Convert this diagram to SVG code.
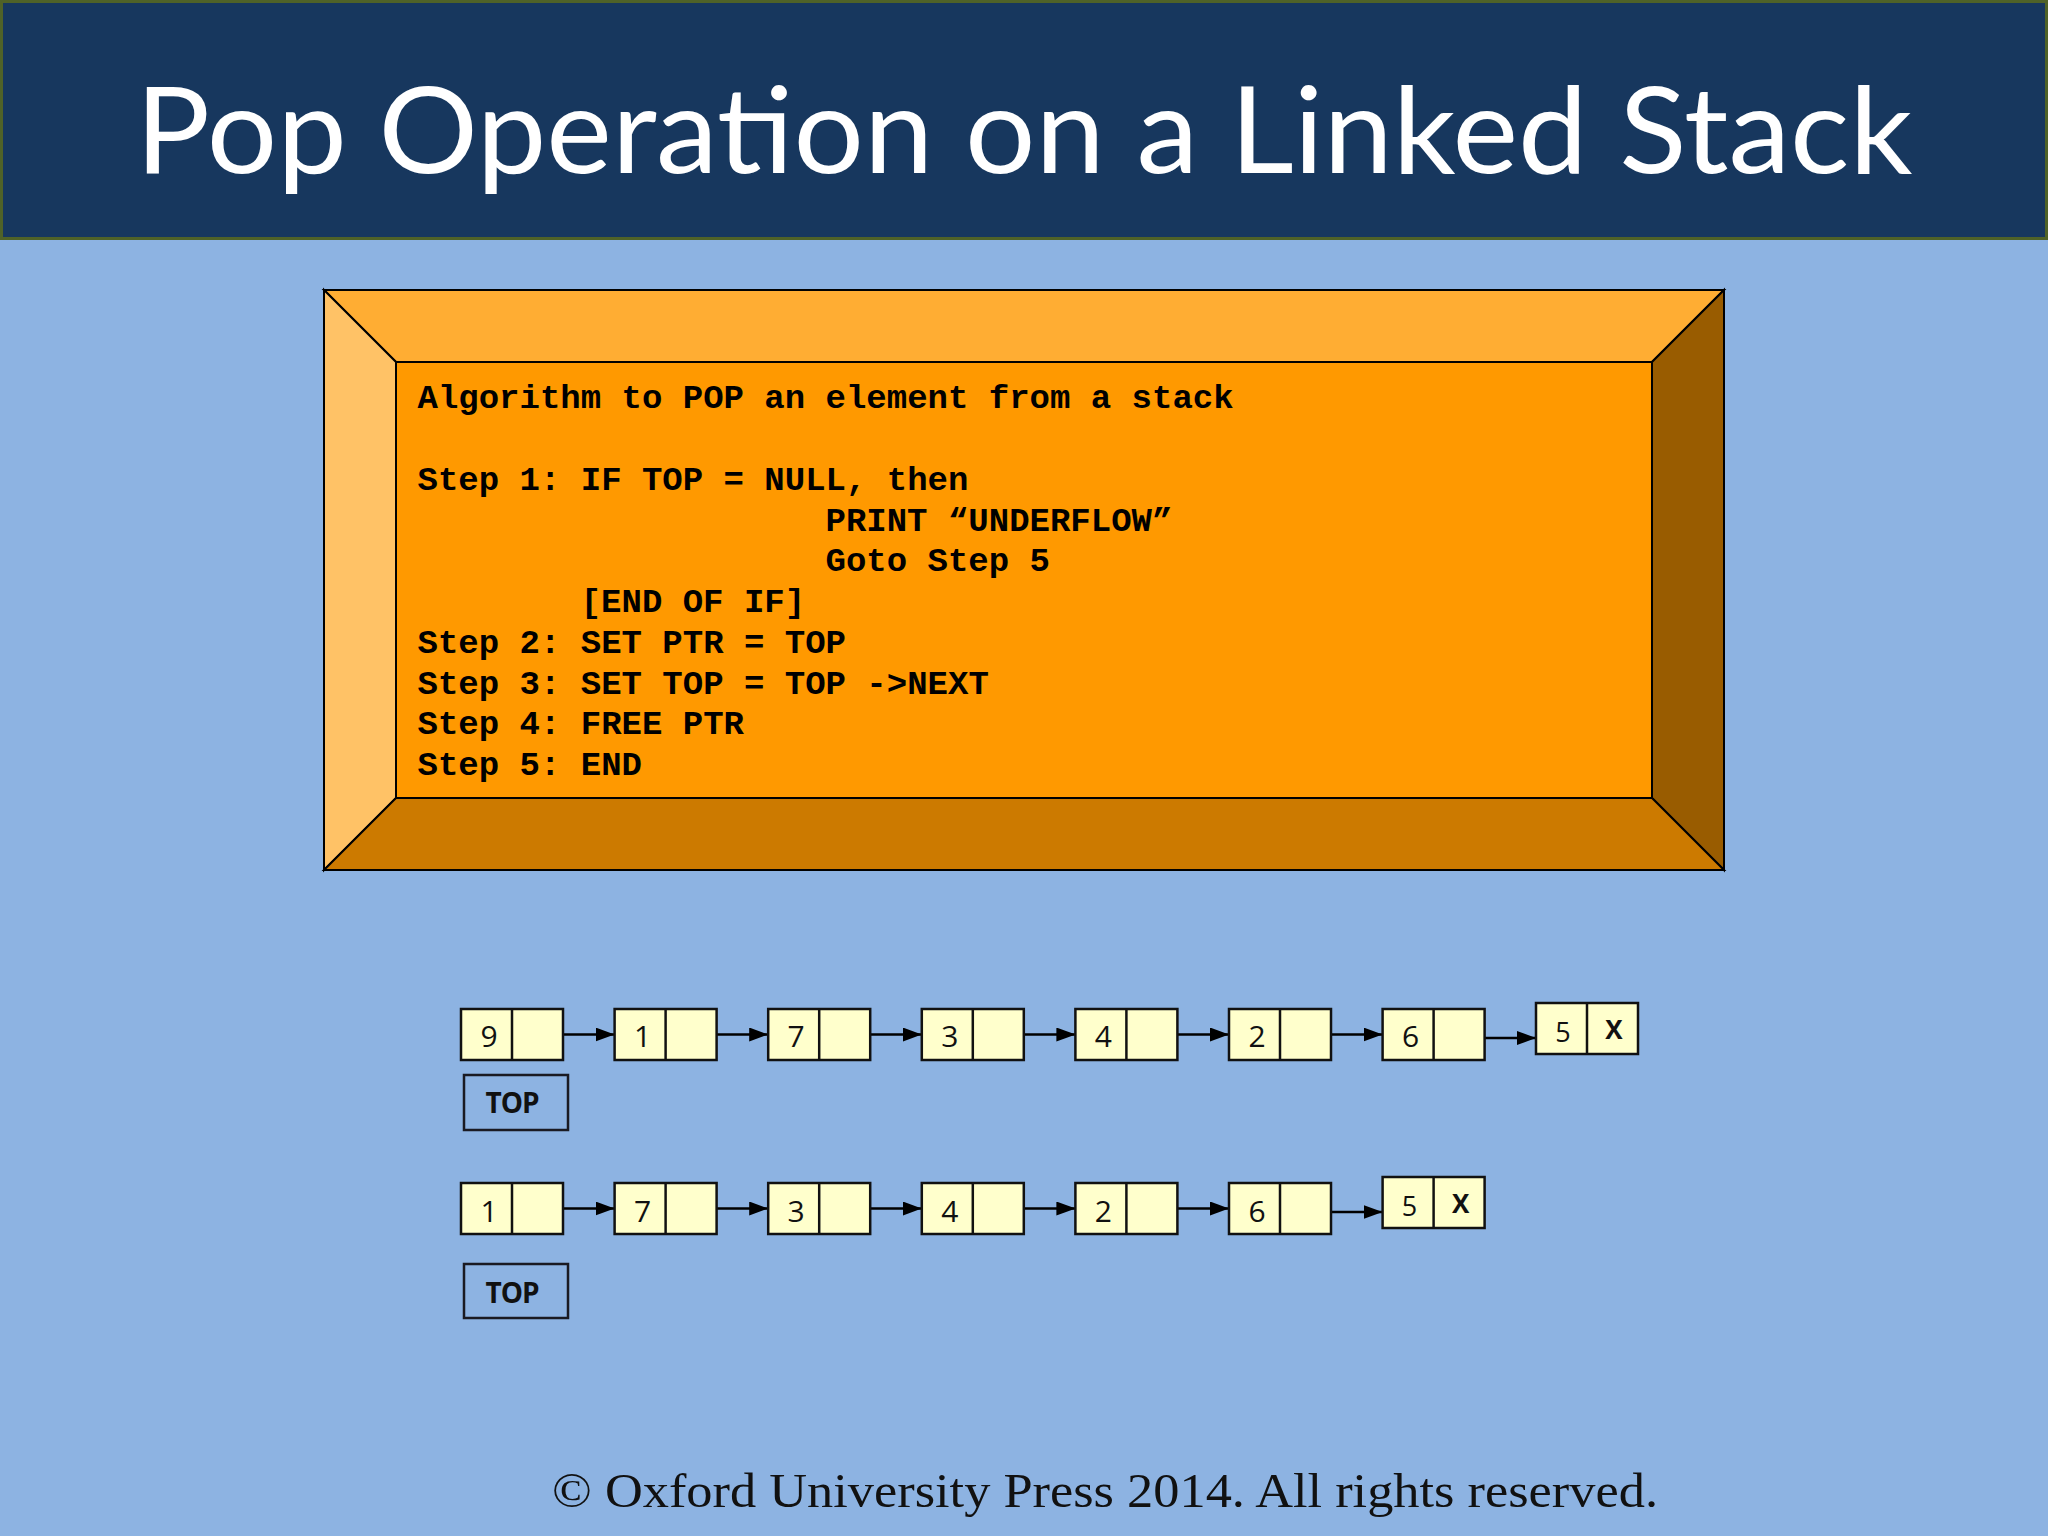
<svg xmlns="http://www.w3.org/2000/svg" width="2048" height="1536" viewBox="0 0 2048 1536">
<defs>
<style>
.node rect{fill:#FFFFCC;stroke:#111;stroke-width:2.5}
.node line{stroke:#111;stroke-width:2.5}
.num{font-family:"Open Sans","Noto Sans",sans-serif;font-size:30px;fill:#111;text-anchor:middle}
.sm{font-size:27px}
.x{font-family:"Open Sans","Noto Sans",sans-serif;font-size:26px;font-weight:bold;fill:#111;text-anchor:middle}
.top rect{fill:none;stroke:#1a1a22;stroke-width:2.5}
.top text{font-family:"Open Sans","Noto Sans",sans-serif;font-size:28px;font-weight:bold;fill:#111;text-anchor:middle;letter-spacing:-1px}
.code{font-family:"Liberation Mono","Courier New",monospace;font-size:34px;font-weight:bold;fill:#000}
.conn line{stroke:#000;stroke-width:2.5;marker-end:url(#ah)}
.bev{stroke:#000;stroke-width:2;stroke-linejoin:miter}
</style>
<marker id="ah" markerUnits="userSpaceOnUse" viewBox="0 0 19 14" refX="19" refY="7" markerWidth="19" markerHeight="14" orient="auto">
<path d="M0,0 L19,7 L0,14 z" fill="#000"/>
</marker>
</defs>
<rect x="0" y="0" width="2048" height="1536" fill="#8DB3E2"/>
<g id="title">
<rect x="1.5" y="1.5" width="2045" height="237" fill="#17375E" stroke="#4F6228" stroke-width="3"/>
<text x="1024" y="173" font-family="Lato,'Open Sans',sans-serif" font-size="120" fill="#fff" text-anchor="middle" textLength="1777" lengthAdjust="spacingAndGlyphs">Pop Operation on a Linked Stack</text>
</g>
<g id="algorithm">
<polygon class="bev" points="324,290 1724,290 1652,362 396,362" fill="#FFAD33"/>
<polygon class="bev" points="324,290 396,362 396,798 324,870" fill="#FFC266"/>
<polygon class="bev" points="1724,290 1724,870 1652,798 1652,362" fill="#995C00"/>
<polygon class="bev" points="324,870 396,798 1652,798 1724,870" fill="#CC7A00"/>
<rect class="bev" x="396" y="362" width="1256" height="436" fill="#FF9900"/>
<text class="code">
<tspan x="417.5" y="408">Algorithm to POP an element from a stack</tspan>
<tspan x="417.5" y="490">Step 1: IF TOP = NULL, then</tspan>
<tspan x="825.5" y="531">PRINT “UNDERFLOW”</tspan>
<tspan x="825.5" y="571">Goto Step 5</tspan>
<tspan x="580.7" y="612">[END OF IF]</tspan>
<tspan x="417.5" y="653">Step 2: SET PTR = TOP</tspan>
<tspan x="417.5" y="694">Step 3: SET TOP = TOP -&gt;NEXT</tspan>
<tspan x="417.5" y="734">Step 4: FREE PTR</tspan>
<tspan x="417.5" y="775">Step 5: END</tspan>
</text>
</g>
<g id="connectors" class="conn">
<line x1="537" y1="1034.5" x2="614.6" y2="1034.5"/>
<line x1="690.6" y1="1034.5" x2="768.2" y2="1034.5"/>
<line x1="844.2" y1="1034.5" x2="921.8" y2="1034.5"/>
<line x1="997.8" y1="1034.5" x2="1075.4" y2="1034.5"/>
<line x1="1151.4" y1="1034.5" x2="1229" y2="1034.5"/>
<line x1="1305" y1="1034.5" x2="1382.6" y2="1034.5"/>
<line x1="1459" y1="1038" x2="1536" y2="1038"/>
<line x1="537" y1="1208.5" x2="614.6" y2="1208.5"/>
<line x1="690.6" y1="1208.5" x2="768.2" y2="1208.5"/>
<line x1="844.2" y1="1208.5" x2="921.8" y2="1208.5"/>
<line x1="997.8" y1="1208.5" x2="1075.4" y2="1208.5"/>
<line x1="1151.4" y1="1208.5" x2="1229" y2="1208.5"/>
<line x1="1306" y1="1212" x2="1382.6" y2="1212"/>
</g>
<g id="row1">
<g id="r1n1" class="node"><rect x="461" y="1009" width="102" height="51"/><line x1="512" y1="1009" x2="512" y2="1060"/><text class="num" x="489" y="1047">9</text></g>
<g id="r1n2" class="node"><rect x="614.6" y="1009" width="102" height="51"/><line x1="665.6" y1="1009" x2="665.6" y2="1060"/><text class="num" x="642.6" y="1047">1</text></g>
<g id="r1n3" class="node"><rect x="768.2" y="1009" width="102" height="51"/><line x1="819.2" y1="1009" x2="819.2" y2="1060"/><text class="num" x="796.2" y="1047">7</text></g>
<g id="r1n4" class="node"><rect x="921.8" y="1009" width="102" height="51"/><line x1="972.8" y1="1009" x2="972.8" y2="1060"/><text class="num" x="949.8" y="1047">3</text></g>
<g id="r1n5" class="node"><rect x="1075.4" y="1009" width="102" height="51"/><line x1="1126.4" y1="1009" x2="1126.4" y2="1060"/><text class="num" x="1103.4" y="1047">4</text></g>
<g id="r1n6" class="node"><rect x="1229" y="1009" width="102" height="51"/><line x1="1280" y1="1009" x2="1280" y2="1060"/><text class="num" x="1257" y="1047">2</text></g>
<g id="r1n7" class="node"><rect x="1382.6" y="1009" width="102" height="51"/><line x1="1433.6" y1="1009" x2="1433.6" y2="1060"/><text class="num" x="1410.6" y="1047">6</text></g>
<g id="r1n8" class="node"><rect x="1536" y="1003" width="102" height="51"/><line x1="1587" y1="1003" x2="1587" y2="1054"/><text class="num sm" x="1563" y="1042">5</text><text class="x" x="1614" y="1039">X</text></g>
<g id="r1top" class="top"><rect x="464" y="1075" width="104" height="55"/><text x="512" y="1113">TOP</text></g>
</g>
<g id="row2">
<g id="r2n1" class="node"><rect x="461" y="1183" width="102" height="51"/><line x1="512" y1="1183" x2="512" y2="1234"/><text class="num" x="489" y="1221.5">1</text></g>
<g id="r2n2" class="node"><rect x="614.6" y="1183" width="102" height="51"/><line x1="665.6" y1="1183" x2="665.6" y2="1234"/><text class="num" x="642.6" y="1221.5">7</text></g>
<g id="r2n3" class="node"><rect x="768.2" y="1183" width="102" height="51"/><line x1="819.2" y1="1183" x2="819.2" y2="1234"/><text class="num" x="796.2" y="1221.5">3</text></g>
<g id="r2n4" class="node"><rect x="921.8" y="1183" width="102" height="51"/><line x1="972.8" y1="1183" x2="972.8" y2="1234"/><text class="num" x="949.8" y="1221.5">4</text></g>
<g id="r2n5" class="node"><rect x="1075.4" y="1183" width="102" height="51"/><line x1="1126.4" y1="1183" x2="1126.4" y2="1234"/><text class="num" x="1103.4" y="1221.5">2</text></g>
<g id="r2n6" class="node"><rect x="1229" y="1183" width="102" height="51"/><line x1="1280" y1="1183" x2="1280" y2="1234"/><text class="num" x="1257" y="1221.5">6</text></g>
<g id="r2n7" class="node"><rect x="1382.6" y="1177" width="102" height="51"/><line x1="1433.6" y1="1177" x2="1433.6" y2="1228"/><text class="num sm" x="1409.6" y="1215.5">5</text><text class="x" x="1460.6" y="1213">X</text></g>
<g id="r2top" class="top"><rect x="464" y="1264" width="104" height="54"/><text x="512" y="1302.5">TOP</text></g>
</g>
<text id="copyright" x="552" y="1507" font-family="'Liberation Serif','DejaVu Serif',serif" font-size="48" fill="#111" textLength="1106" lengthAdjust="spacingAndGlyphs">© Oxford University Press 2014. All rights reserved.</text>
</svg>
